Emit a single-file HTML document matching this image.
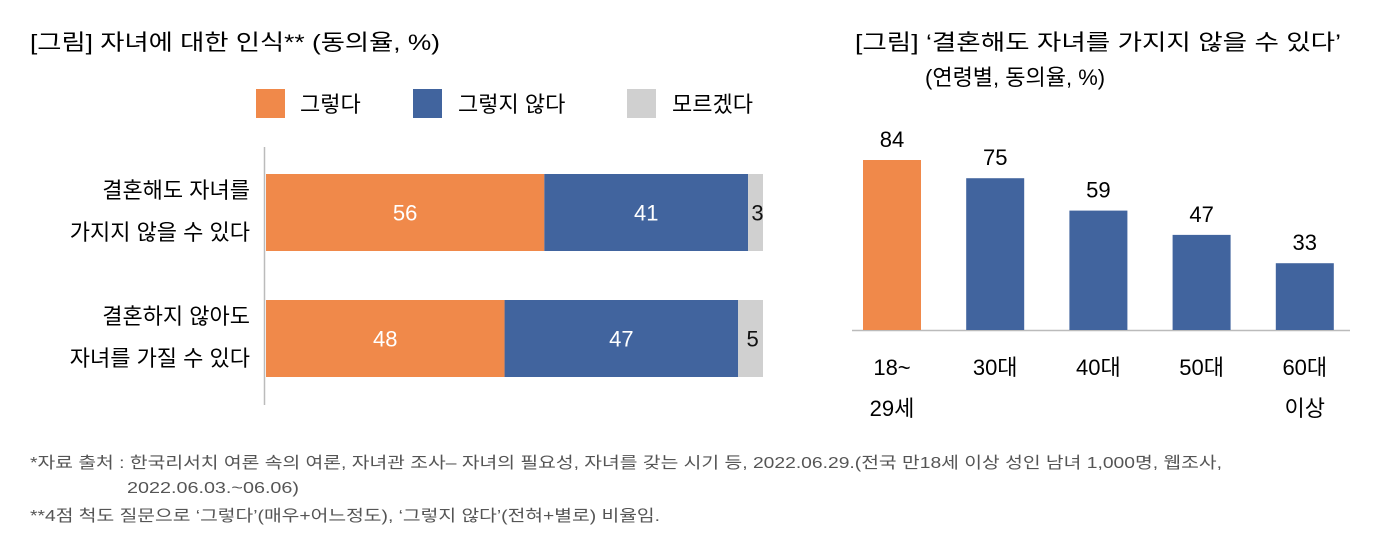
<!DOCTYPE html>
<html><head><meta charset="utf-8">
<style>
body{margin:0;width:1376px;height:542px;background:#fff;overflow:hidden;font-family:"Liberation Sans","Noto Sans CJK KR",sans-serif;color:#111;}
svg text{font-family:"Liberation Sans","Noto Sans CJK KR",sans-serif;}
</style></head><body>
<svg id="c" width="1376" height="542">
<text x="30" y="50" font-size="22" textLength="410" lengthAdjust="spacingAndGlyphs">[그림] 자녀에 대한 인식** (동의율, %)</text>
<g>
<rect x="256" y="89" width="29" height="29" fill="#F0894A"/>
<text x="300" y="112" font-size="22">그렇다</text>
<rect x="413" y="89" width="29" height="29" fill="#41649E"/>
<text x="458" y="112" font-size="22">그렇지 않다</text>
<rect x="627" y="89" width="29" height="29" fill="#D0D0D0"/>
<text x="672" y="112" font-size="22">모르겠다</text>
</g>
<line x1="264.5" y1="147" x2="264.5" y2="405" stroke="#bbb" stroke-width="1.5"/>
<g id="left"></g>
<text x="855" y="50" font-size="22" textLength="486" lengthAdjust="spacingAndGlyphs">[그림] ‘결혼해도 자녀를 가지지 않을 수 있다’</text>
<text x="925" y="85" font-size="22">(연령별, 동의율, %)</text>
<line x1="852" y1="330.5" x2="1350" y2="330.5" stroke="#bbb" stroke-width="1.5"/>
<g id="right"></g>
<g font-size="16" fill="#555">
<text x="30" y="468" textLength="1192" lengthAdjust="spacingAndGlyphs">*자료 출처 : 한국리서치 여론 속의 여론, 자녀관 조사– 자녀의 필요성, 자녀를 갖는 시기 등, 2022.06.29.(전국 만18세 이상 성인 남녀 1,000명, 웹조사,</text>
<text x="127" y="493" textLength="172" lengthAdjust="spacingAndGlyphs">2022.06.03.~06.06)</text>
<text x="30" y="521" textLength="630" lengthAdjust="spacingAndGlyphs">**4점 척도 질문으로 ‘그렇다’(매우+어느정도), ‘그렇지 않다’(전혀+별로) 비율임.</text>
</g>
</svg>
<script>
const leftLines=[["결혼해도 자녀를","가지지 않을 수 있다"],["결혼하지 않아도","자녀를 가질 수 있다"]];
const yesVals=[56,48];
const noVals=[41,47];
const unkVals=[3,5];
const ageCats=[["18~","29세"],["30대"],["40대"],["50대"],["60대","이상"]];
const ageVals=[84,75,59,47,33];

const NS="http://www.w3.org/2000/svg";
function mk(t,a,p){const e=document.createElementNS(NS,t);for(const k in a)e.setAttribute(k,a[k]);p.appendChild(e);return e;}
const L=document.getElementById('left');
const x0=266,W=497;
const xs=v=>v/100*W;
const bandY=i=>174+i*126, bh=77;
leftLines.forEach((lines,i)=>{
  const y=bandY(i);
  lines.forEach((s,j)=>{const t=mk('text',{x:250,y:y+24+j*42,'font-size':22,'text-anchor':'end'},L);t.textContent=s;
  
  });
  let x=x0;
  [[yesVals[i],'#F0894A','#fff','bar-yes'],[noVals[i],'#41649E','#fff','bar-no'],[unkVals[i],'#D0D0D0','#111','bar-unknown']].forEach(([v,c,tc,n],k)=>{
    const w=xs(v);
    const r=mk('rect',{x:x,y:y,width:w,height:bh,fill:c},L);
    
    
    const tx=k==2?x+w/2+2:x+w/2;
    const t=mk('text',{x:tx,y:y+bh/2+8,'font-size':22,'text-anchor':'middle',fill:tc},L);t.textContent=v;
    
    
    x+=w;
  });
});
const R=document.getElementById('right');
const base=330, sc=170/84, bw=58;
const cx=i=>892+i*103.2;
ageVals.forEach((v,i)=>{
  const h=v*sc;
  const r=mk('rect',{x:cx(i)-bw/2,y:base-h,width:bw,height:h,fill:i==0?'#F0894A':'#41649E'},R);
  
  
  const t=mk('text',{x:cx(i),y:base-h-13,'font-size':22,'text-anchor':'middle'},R);t.textContent=v;
  
  
  ageCats[i].forEach((s,j)=>{const l=mk('text',{x:cx(i),y:375+j*41,'font-size':22,'text-anchor':'middle'},R);l.textContent=s;
  
  });
});
</script>
</body></html>
